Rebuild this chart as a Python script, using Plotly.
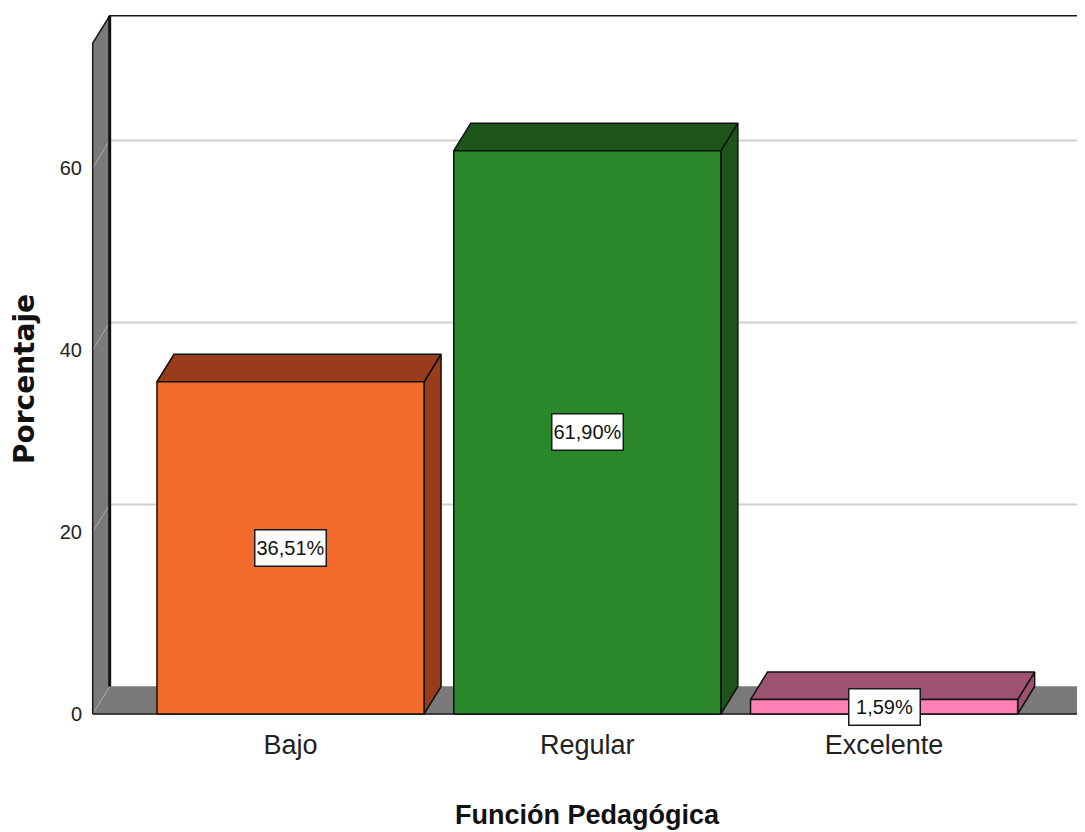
import plotly.graph_objects as go

categories = ["Bajo", "Regular", "Excelente"]
percentages = [36.51, 61.90, 1.59]
value_labels = ["36,51%", "61,90%", "1,59%"]
y_ticks = [0, 20, 40, 60]

front_colors = ["#F26A2C", "#2A882B", "#FF80B5"]
shade_colors = ["#983C1B", "#1C5419", "#9C5270"]

SANS = "Liberation Sans, Arial, sans-serif"

# fake 3D depth offset, in data units (about 17 px right and 27 px up)
DX = 17 / 296.75
DY = 27.5 / 9.1
BAR_W = 0.9
X_LEFT = -2 / 3
X_RIGHT = len(categories) - 1 + 2 / 3
WALL_TOP = 73.7
X_FAR = X_RIGHT + 1


def poly(xs, ys, fill, line_color="#111111", line_width=1.5):
    return go.Scatter(
        x=xs + [xs[0]], y=ys + [ys[0]], mode="lines", fill="toself",
        fillcolor=fill, line=dict(color=line_color, width=line_width),
        hoverinfo="skip", showlegend=False,
    )


def seg(xs, ys, color, width):
    return go.Scatter(
        x=xs, y=ys, mode="lines", line=dict(color=color, width=width),
        hoverinfo="skip", showlegend=False,
    )


traces = []

# gridlines on the back wall
for v in y_ticks[1:]:
    traces.append(seg([X_LEFT + DX, X_FAR], [v + DY, v + DY], "#CFCFCF", 2))

# left wall and floor
traces.append(poly([X_LEFT, X_LEFT, X_LEFT + DX, X_LEFT + DX],
                   [0, WALL_TOP, WALL_TOP + DY, DY], "#7A7A7A", "#7A7A7A", 0.5))
traces.append(poly([X_LEFT, X_LEFT + DX, X_RIGHT + DX, X_RIGHT],
                   [0, DY, DY, 0], "#7A7A7A", "#7A7A7A", 0.5))

# gridline traces across the wall
for v in y_ticks:
    traces.append(seg([X_LEFT, X_LEFT + DX], [v, v + DY], "#ABABAB", 1))

# wall edges
traces.append(seg([X_LEFT, X_LEFT, X_LEFT + DX, X_FAR],
                  [0, WALL_TOP, WALL_TOP + DY, WALL_TOP + DY], "#1A1A1A", 1.5))
traces.append(seg([X_LEFT + DX, X_LEFT + DX], [DY, WALL_TOP + DY], "#111111", 3))
traces.append(seg([X_LEFT, X_RIGHT, X_RIGHT + DX], [0, 0, DY], "#1A1A1A", 1.5))

# bars: side, top, front
for i, v in enumerate(percentages):
    l, r = i - BAR_W / 2, i + BAR_W / 2
    traces.append(poly([r, r, r + DX, r + DX], [0, v, v + DY, DY], shade_colors[i]))
    traces.append(poly([l, l + DX, r + DX, r], [v, v + DY, v + DY, v], shade_colors[i]))
    traces.append(poly([l, l, r, r], [0, v, v, 0], front_colors[i]))

fig = go.Figure(data=traces)

annotations = []
for i, v in enumerate(percentages):
    annotations.append(dict(
        x=i, y=v / 2, xref="x", yref="y", text=value_labels[i], showarrow=False,
        width=68, height=33, bgcolor="white", bordercolor="#1A1A1A",
        borderwidth=1.5, borderpad=1,
        font=dict(family=SANS, size=20, color="#111111"),
    ))

annotations.append(dict(
    x=0.4995, y=-0.134, xref="paper", yref="paper", text="<b>Función Pedagógica</b>",
    xanchor="center", yanchor="middle", showarrow=False,
    font=dict(family=SANS, size=27, color="#111111"),
))
annotations.append(dict(
    x=-0.0653, y=0.479, xref="paper", yref="paper", text="<b>Porcentaje</b>",
    xanchor="center", yanchor="middle", showarrow=False, textangle=-90,
    font=dict(family="DejaVu Sans, sans-serif", size=28, color="#111111"),
))

# page body has an 8px margin, so the figure is 8px smaller each way
fig.update_layout(
    width=1077, height=824,
    margin=dict(l=82, r=0, t=0, b=112),
    paper_bgcolor="white", plot_bgcolor="white",
    showlegend=False,
    annotations=annotations,
)
fig.update_xaxes(
    range=[-0.6757, 2.677], tickvals=list(range(len(categories))), ticktext=categories,
    showgrid=False, zeroline=False, showline=False, ticks="", ticklabelstandoff=6,
    tickfont=dict(family=SANS, size=27, color="#222222"),
)
fig.update_yaxes(
    range=[-0.659, 77.58], tickvals=y_ticks,
    showgrid=False, zeroline=False, showline=False, ticks="", ticklabelstandoff=7,
    tickfont=dict(family=SANS, size=20, color="#222222"),
)

fig.write_html("out.html")
